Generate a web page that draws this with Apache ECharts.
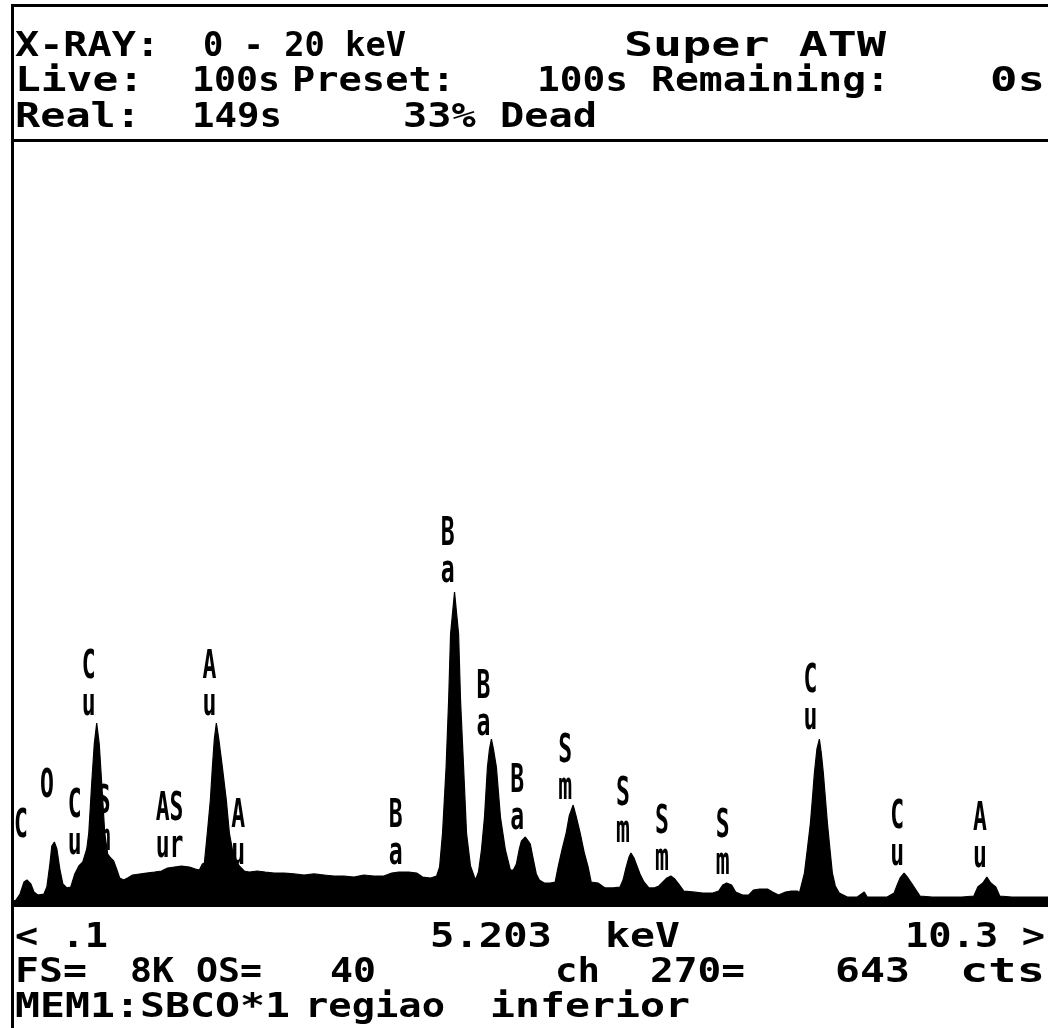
<!DOCTYPE html>
<html>
<head>
<meta charset="utf-8">
<style>
  html, body { margin: 0; padding: 0; background: #fff; }
  #chart { width: 1048px; height: 1028px; }
</style>
<script src="https://cdn.jsdelivr.net/npm/echarts@6/dist/echarts.min.js"></script>
</head>
<body>
<div id="chart"></div>
<script>
// EDS spectrum, 0.1 - 10.3 keV window, full scale 8K counts
const axisMin = 0.1;
const axisMax = 10.3;
const fullScale = 8192;

const energyKeV = [
  0.100, 0.139, 0.179, 0.218, 0.247, 0.286, 0.316, 0.355, 0.414, 0.443,
  0.473, 0.492, 0.517, 0.542, 0.571, 0.601, 0.640, 0.679, 0.718, 0.758,
  0.797, 0.836, 0.856, 0.885, 0.910, 0.934, 0.959, 0.983, 1.013, 1.042,
  1.072, 1.101, 1.130, 1.160, 1.199, 1.238, 1.287, 1.356, 1.425, 1.503,
  1.572, 1.631, 1.700, 1.768, 1.847, 1.906, 1.945, 1.974, 1.994, 2.023,
  2.053, 2.073, 2.092, 2.112, 2.136, 2.171, 2.210, 2.240, 2.269, 2.298,
  2.338, 2.387, 2.436, 2.514, 2.593, 2.681, 2.779, 2.877, 2.975, 3.074,
  3.172, 3.270, 3.368, 3.466, 3.564, 3.662, 3.760, 3.839, 3.908, 4.006,
  4.084, 4.143, 4.222, 4.281, 4.310, 4.339, 4.374, 4.399, 4.418, 4.457,
  4.497, 4.516, 4.546, 4.575, 4.614, 4.663, 4.693, 4.722, 4.752, 4.781,
  4.801, 4.820, 4.840, 4.869, 4.909, 4.958, 5.007, 5.036, 5.066, 5.095,
  5.115, 5.154, 5.183, 5.203, 5.232, 5.262, 5.292, 5.340, 5.399, 5.448,
  5.477, 5.517, 5.556, 5.586, 5.625, 5.654, 5.694, 5.733, 5.772, 5.802,
  5.870, 5.939, 6.018, 6.086, 6.116, 6.145, 6.175, 6.194, 6.224, 6.253,
  6.283, 6.322, 6.371, 6.420, 6.469, 6.508, 6.548, 6.587, 6.626, 6.665,
  6.714, 6.803, 6.901, 6.999, 7.058, 7.097, 7.136, 7.185, 7.225, 7.293,
  7.352, 7.401, 7.460, 7.539, 7.588, 7.647, 7.716, 7.774, 7.833, 7.853,
  7.902, 7.932, 7.961, 7.981, 8.000, 8.025, 8.049, 8.069, 8.088, 8.108,
  8.128, 8.152, 8.177, 8.206, 8.245, 8.324, 8.422, 8.491, 8.520, 8.618,
  8.716, 8.785, 8.815, 8.844, 8.883, 8.922, 8.962, 9.001, 9.040, 9.158,
  9.305, 9.452, 9.570, 9.609, 9.658, 9.698, 9.737, 9.786, 9.825, 9.943,
  10.090, 10.237, 10.300
];

const counts = [
    21,   43,  107,  236,  257,  214,  129,   96,  107,  182,
   429,  622,  665,  590,  375,  214,  172,  182,  322,  407,
   450,  590,  761, 1297, 1715, 1940, 1715, 1297,  761,  536,
   493,  461,  375,  279,  257,  279,  311,  322,  332,  343,
   354,  386,  397,  407,  397,  375,  364,  429,  440,  761,
  1115, 1469, 1769, 1940, 1769, 1469, 1115,  761,  590,  482,
   407,  354,  343,  354,  343,  332,  332,  322,  311,  322,
   311,  300,  300,  289,  311,  300,  300,  332,  343,  343,
   332,  289,  279,  300,  397,  761, 1469, 2187, 2894, 3345,
  2894, 2187, 1469,  761,  407,  257,  343,  579,  933, 1469,
  1662, 1769, 1662, 1469,  933,  579,  364,  364,  429,  590,
   675,  718,  675,  643,  482,  322,  257,  225,  225,  236,
   397,  590,  761,  943, 1061,  943,  761,  557,  397,  236,
   225,  172,  172,  182,  257,  386,  504,  547,  493,  407,
   322,  236,  172,  172,  193,  236,  279,  300,  268,  214,
   139,  129,  118,  118,  139,  204,  225,  204,  129,   96,
    96,  150,  161,  161,  129,   96,  129,  139,  139,  118,
   332,  600,  868, 1136, 1404, 1662, 1769, 1608, 1404, 1136,
   868,  600,  332,  193,  118,   75,   75,  129,   75,   75,
    75,  118,  204,  279,  332,  279,  214,  150,   86,   75,
    75,   75,   86,  182,  225,  289,  225,  182,   86,   75,
    75,   75,   75
];

// element markers: text, energy of the marker and the count level of its lower edge
const markerText = [
  'C', 'O', 'C\nu', 'C\nu', 'S\nm', 'AS\nur', 'A\nu', 'A\nu',
  'B\na', 'B\na', 'B\na', 'B\na', 'S\nm', 'S\nm', 'S\nm', 'S\nm',
  'C\nu', 'C\nu', 'A\nu'
];
const markerEnergy = [
  0.188, 0.443, 0.718, 0.856, 1.003, 1.651, 2.043, 2.328,
  3.878, 4.389, 4.742, 5.075, 5.547, 6.116, 6.498, 7.097,
  7.961, 8.815, 9.629
];
const markerLevel = [
   686, 1115,  504, 1994,  547,  472, 1994,  397,
   397, 3420, 1780,  772, 1093,  632,  332,  289,
  1844,  386,  364
];

// acquisition / cursor readout
const rangeKeV = '0 - 20 keV';
const detector = 'Super ATW';
const liveTime = 100, presetTime = 100, remainingTime = 0;
const realTime = 149, deadPercent = 33;
const cursorKeV = 5.203, cursorChannel = 270, cursorCounts = 643;
const offsetSetting = 40;
const memoryLabel = 'MEM1:SBCO*1';
const sampleLabel = ['regiao', 'inferior'];

const spectrum = energyKeV.map((e, i) => [e, counts[i]]);
const markers = markerEnergy.map((e, i) => [e, markerLevel[i], i]);

const monoFont = '"DejaVu Sans Mono", "Liberation Mono", monospace';
const rowSize = 30;
const rowFont = 'bold ' + rowSize + 'px ' + monoFont;
const measureCtx = document.createElement('canvas').getContext('2d');
measureCtx.font = rowFont;

// a status-line word stretched to fill the span x0..x1
function rowText(x0, x1, yMid, text) {
  const w = measureCtx.measureText(text).width;
  return {
    type: 'text', x: x0, y: yMid, scaleX: (x1 - x0) / w, scaleY: 1.12,
    style: {
      text: text, fill: '#000', font: rowFont,
      textAlign: 'left', textVerticalAlign: 'middle'
    },
    silent: true
  };
}
function frameRect(x, y, w, h) {
  return { type: 'rect', shape: { x: x, y: y, width: w, height: h }, style: { fill: '#000' }, silent: true };
}

const fmtEdge = v => String(v).replace(/^0\./, '.');
const fsLabel = Math.round(fullScale / 1024) + 'K';

const chart = echarts.init(document.getElementById('chart'), null, { renderer: 'canvas' });
chart.setOption({
  animation: false,
  backgroundColor: '#fff',
  grid: { left: 12, top: 140, width: 1039, height: 764, containLabel: false },
  xAxis: {
    type: 'value', min: axisMin, max: axisMax,
    axisLine: { show: false }, axisTick: { show: false },
    axisLabel: { show: false }, splitLine: { show: false }
  },
  yAxis: {
    type: 'value', min: 0, max: fullScale,
    axisLine: { show: false }, axisTick: { show: false },
    axisLabel: { show: false }, splitLine: { show: false }
  },
  series: [
    {
      type: 'line', data: spectrum, symbol: 'none', smooth: false,
      lineStyle: { color: '#000', width: 1.2 },
      areaStyle: { color: '#000', opacity: 1 },
      z: 2
    },
    {
      type: 'custom', data: markers, z: 3, clip: false,
      renderItem: function (params, api) {
        const p = api.coord([api.value(0), api.value(1)]);
        return {
          type: 'text', x: p[0], y: p[1] + 5, scaleX: 1.05, scaleY: 1.75,
          style: {
            text: markerText[api.value(2)], fill: '#000',
            font: 'bold 22px ' + monoFont, lineHeight: 21,
            textAlign: 'center', textVerticalAlign: 'bottom'
          }
        };
      }
    }
  ],
  graphic: [
    frameRect(11, 4, 1037, 3),
    frameRect(11, 4, 3, 1024),
    frameRect(11, 139, 1037, 3),
    frameRect(11, 904, 1037, 3),

    rowText(15, 160, 47, 'X-RAY:'),
    rowText(203, 406, 47, rangeKeV),
    rowText(624, 886, 47, detector),

    rowText(15, 144, 82, 'Live:'),
    rowText(192, 280, 82, liveTime + 's'),
    rowText(292, 455, 82, 'Preset:'),
    rowText(537, 628, 82, presetTime + 's'),
    rowText(651, 890, 82, 'Remaining:'),
    rowText(990, 1045, 82, remainingTime + 's'),

    rowText(15, 141, 118, 'Real:'),
    rowText(192, 282, 118, realTime + 's'),
    rowText(403, 597, 118, deadPercent + '% Dead'),

    rowText(15, 108, 938, '< ' + fmtEdge(axisMin)),
    rowText(430, 552, 938, cursorKeV.toFixed(3)),
    rowText(605, 680, 938, 'keV'),
    rowText(905, 1045, 938, fmtEdge(axisMax) + ' >'),

    rowText(15, 87, 973, 'FS='),
    rowText(130, 262, 973, fsLabel + ' OS='),
    rowText(330, 376, 973, String(offsetSetting)),
    rowText(555, 600, 973, 'ch'),
    rowText(650, 745, 973, cursorChannel + '='),
    rowText(835, 910, 973, String(cursorCounts)),
    rowText(960, 1045, 973, 'cts'),

    rowText(15, 290, 1008, memoryLabel),
    rowText(305, 445, 1008, sampleLabel[0]),
    rowText(490, 690, 1008, sampleLabel[1])
  ]
});
</script>
</body>
</html>
